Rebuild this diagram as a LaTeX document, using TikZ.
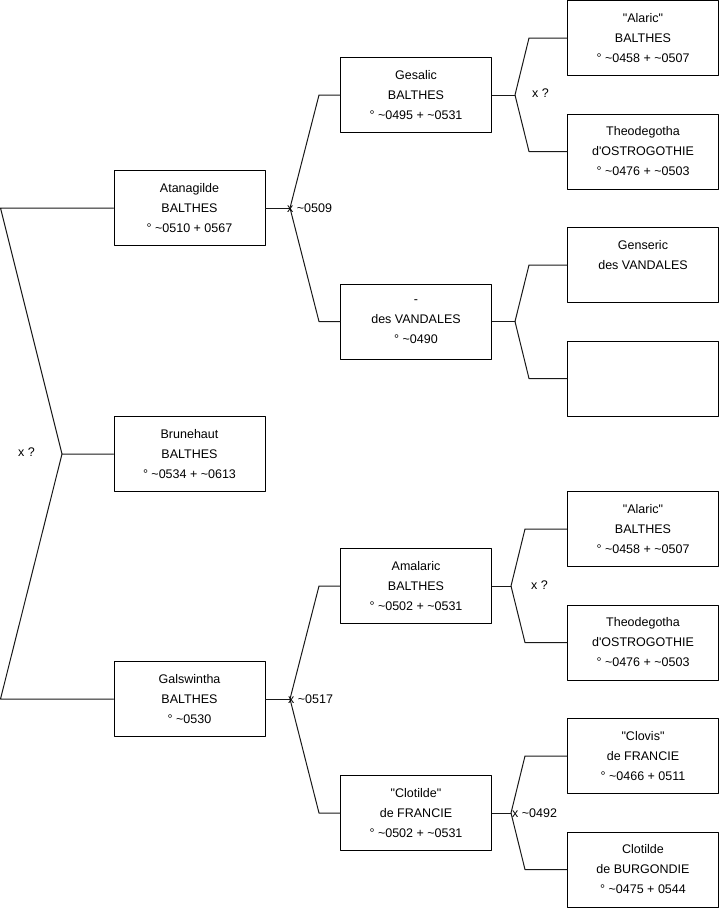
\documentclass[tikz,border=0pt]{standalone}
\usepackage{fontspec}
\setmainfont{Liberation Sans}[Ligatures=TeXOff]
\begin{document}
\begin{tikzpicture}[x=1pt,y=-1pt,line cap=round,line join=round]
  \tikzset{
    person/.style={draw=black,line width=1pt,minimum width=151pt,minimum height=75pt,
      inner sep=0pt,align=center,font=\fontsize{12.5}{20}\selectfont},
    link/.style={draw=black!90,line width=1pt},
    union/.style={anchor=west,inner sep=0pt,font=\fontsize{12.5}{14}\selectfont}}
  \useasboundingbox (0,0) rectangle (719,908);
  % Generation 1
  \node[person] (atanagilde) at (189.5,208) {Atanagilde\\BALTHES\\° \textasciitilde0510 + 0567};
  \node[person] (brunehaut) at (189.5,454) {Brunehaut\\BALTHES\\° \textasciitilde0534 + \textasciitilde0613};
  \node[person] (galswintha) at (189.5,699) {Galswintha\\BALTHES\\° \textasciitilde0530};
  % Generation 2
  \node[person] (gesalic) at (416,95) {Gesalic\\BALTHES\\° \textasciitilde0495 + \textasciitilde0531};
  \node[person] (vandale) at (416,321.5) {-\\des VANDALES\\° \textasciitilde0490};
  \node[person] (amalaric) at (416,586) {Amalaric\\BALTHES\\° \textasciitilde0502 + \textasciitilde0531};
  \node[person] (clotildeF) at (416,813) {"Clotilde"\\de FRANCIE\\° \textasciitilde0502 + \textasciitilde0531};
  % Generation 3
  \node[person] (alaricA) at (643,38) {"Alaric"\\BALTHES\\° \textasciitilde0458 + \textasciitilde0507};
  \node[person] (theodA) at (643,151.5) {Theodegotha\\d'OSTROGOTHIE\\° \textasciitilde0476 + \textasciitilde0503};
  \node[person] (genseric) at (643,265) {Genseric\\des VANDALES\\\mbox{}};
  \node[person] (inconnu) at (643,378.5) {};
  \node[person] (alaricB) at (643,529) {"Alaric"\\BALTHES\\° \textasciitilde0458 + \textasciitilde0507};
  \node[person] (theodB) at (643,642.5) {Theodegotha\\d'OSTROGOTHIE\\° \textasciitilde0476 + \textasciitilde0503};
  \node[person] (clovis) at (643,756) {"Clovis"\\de FRANCIE\\° \textasciitilde0466 + 0511};
  \node[person] (clotildeB) at (643,869.5) {Clotilde\\de BURGONDIE\\° \textasciitilde0475 + 0544};
  % Forks
  \coordinate (r1) at (0.5,208);
  \coordinate (r2) at (0.5,699);
  \coordinate (rf) at (62,454);
  \coordinate (f1) at (290,208);
  \coordinate (f2) at (290,699);
  \coordinate (f3) at (515,95);
  \coordinate (f4) at (515,321.5);
  \coordinate (f5) at (511,586);
  \coordinate (f6) at (511,813);
  \draw[link] (atanagilde.west) -- (r1) -- (rf) -- (brunehaut.west);
  \draw[link] (rf) -- (r2) -- (galswintha.west);
  \draw[link] (gesalic.west) -- ([xshift=-21pt]gesalic.west) -- (f1) -- ([xshift=-21pt]vandale.west) -- (vandale.west);
  \draw[link] (f1) -- (atanagilde.east);
  \draw[link] (amalaric.west) -- ([xshift=-21pt]amalaric.west) -- (f2) -- ([xshift=-21pt]clotildeF.west) -- (clotildeF.west);
  \draw[link] (f2) -- (galswintha.east);
  \draw[link] (alaricA.west) -- ([xshift=-38pt]alaricA.west) -- (f3) -- ([xshift=-38pt]theodA.west) -- (theodA.west);
  \draw[link] (f3) -- (gesalic.east);
  \draw[link] (genseric.west) -- ([xshift=-38pt]genseric.west) -- (f4) -- ([xshift=-38pt]inconnu.west) -- (inconnu.west);
  \draw[link] (f4) -- (vandale.east);
  \draw[link] (alaricB.west) -- ([xshift=-42pt]alaricB.west) -- (f5) -- ([xshift=-42pt]theodB.west) -- (theodB.west);
  \draw[link] (f5) -- (amalaric.east);
  \draw[link] (clovis.west) -- ([xshift=-42pt]clovis.west) -- (f6) -- ([xshift=-42pt]clotildeB.west) -- (clotildeB.west);
  \draw[link] (f6) -- (clotildeF.east);
  % Unions
  \node[union] (u0) at (18,452) {x ?};
  \node[union] (u1) at (287,208) {x \textasciitilde0509};
  \node[union] (u2) at (288,699) {x \textasciitilde0517};
  \node[union] (u3) at (532,93) {x ?};
  \node[union] (u4) at (531,585) {x ?};
  \node[union] (u5) at (512,813) {x \textasciitilde0492};
\end{tikzpicture}
\end{document}
